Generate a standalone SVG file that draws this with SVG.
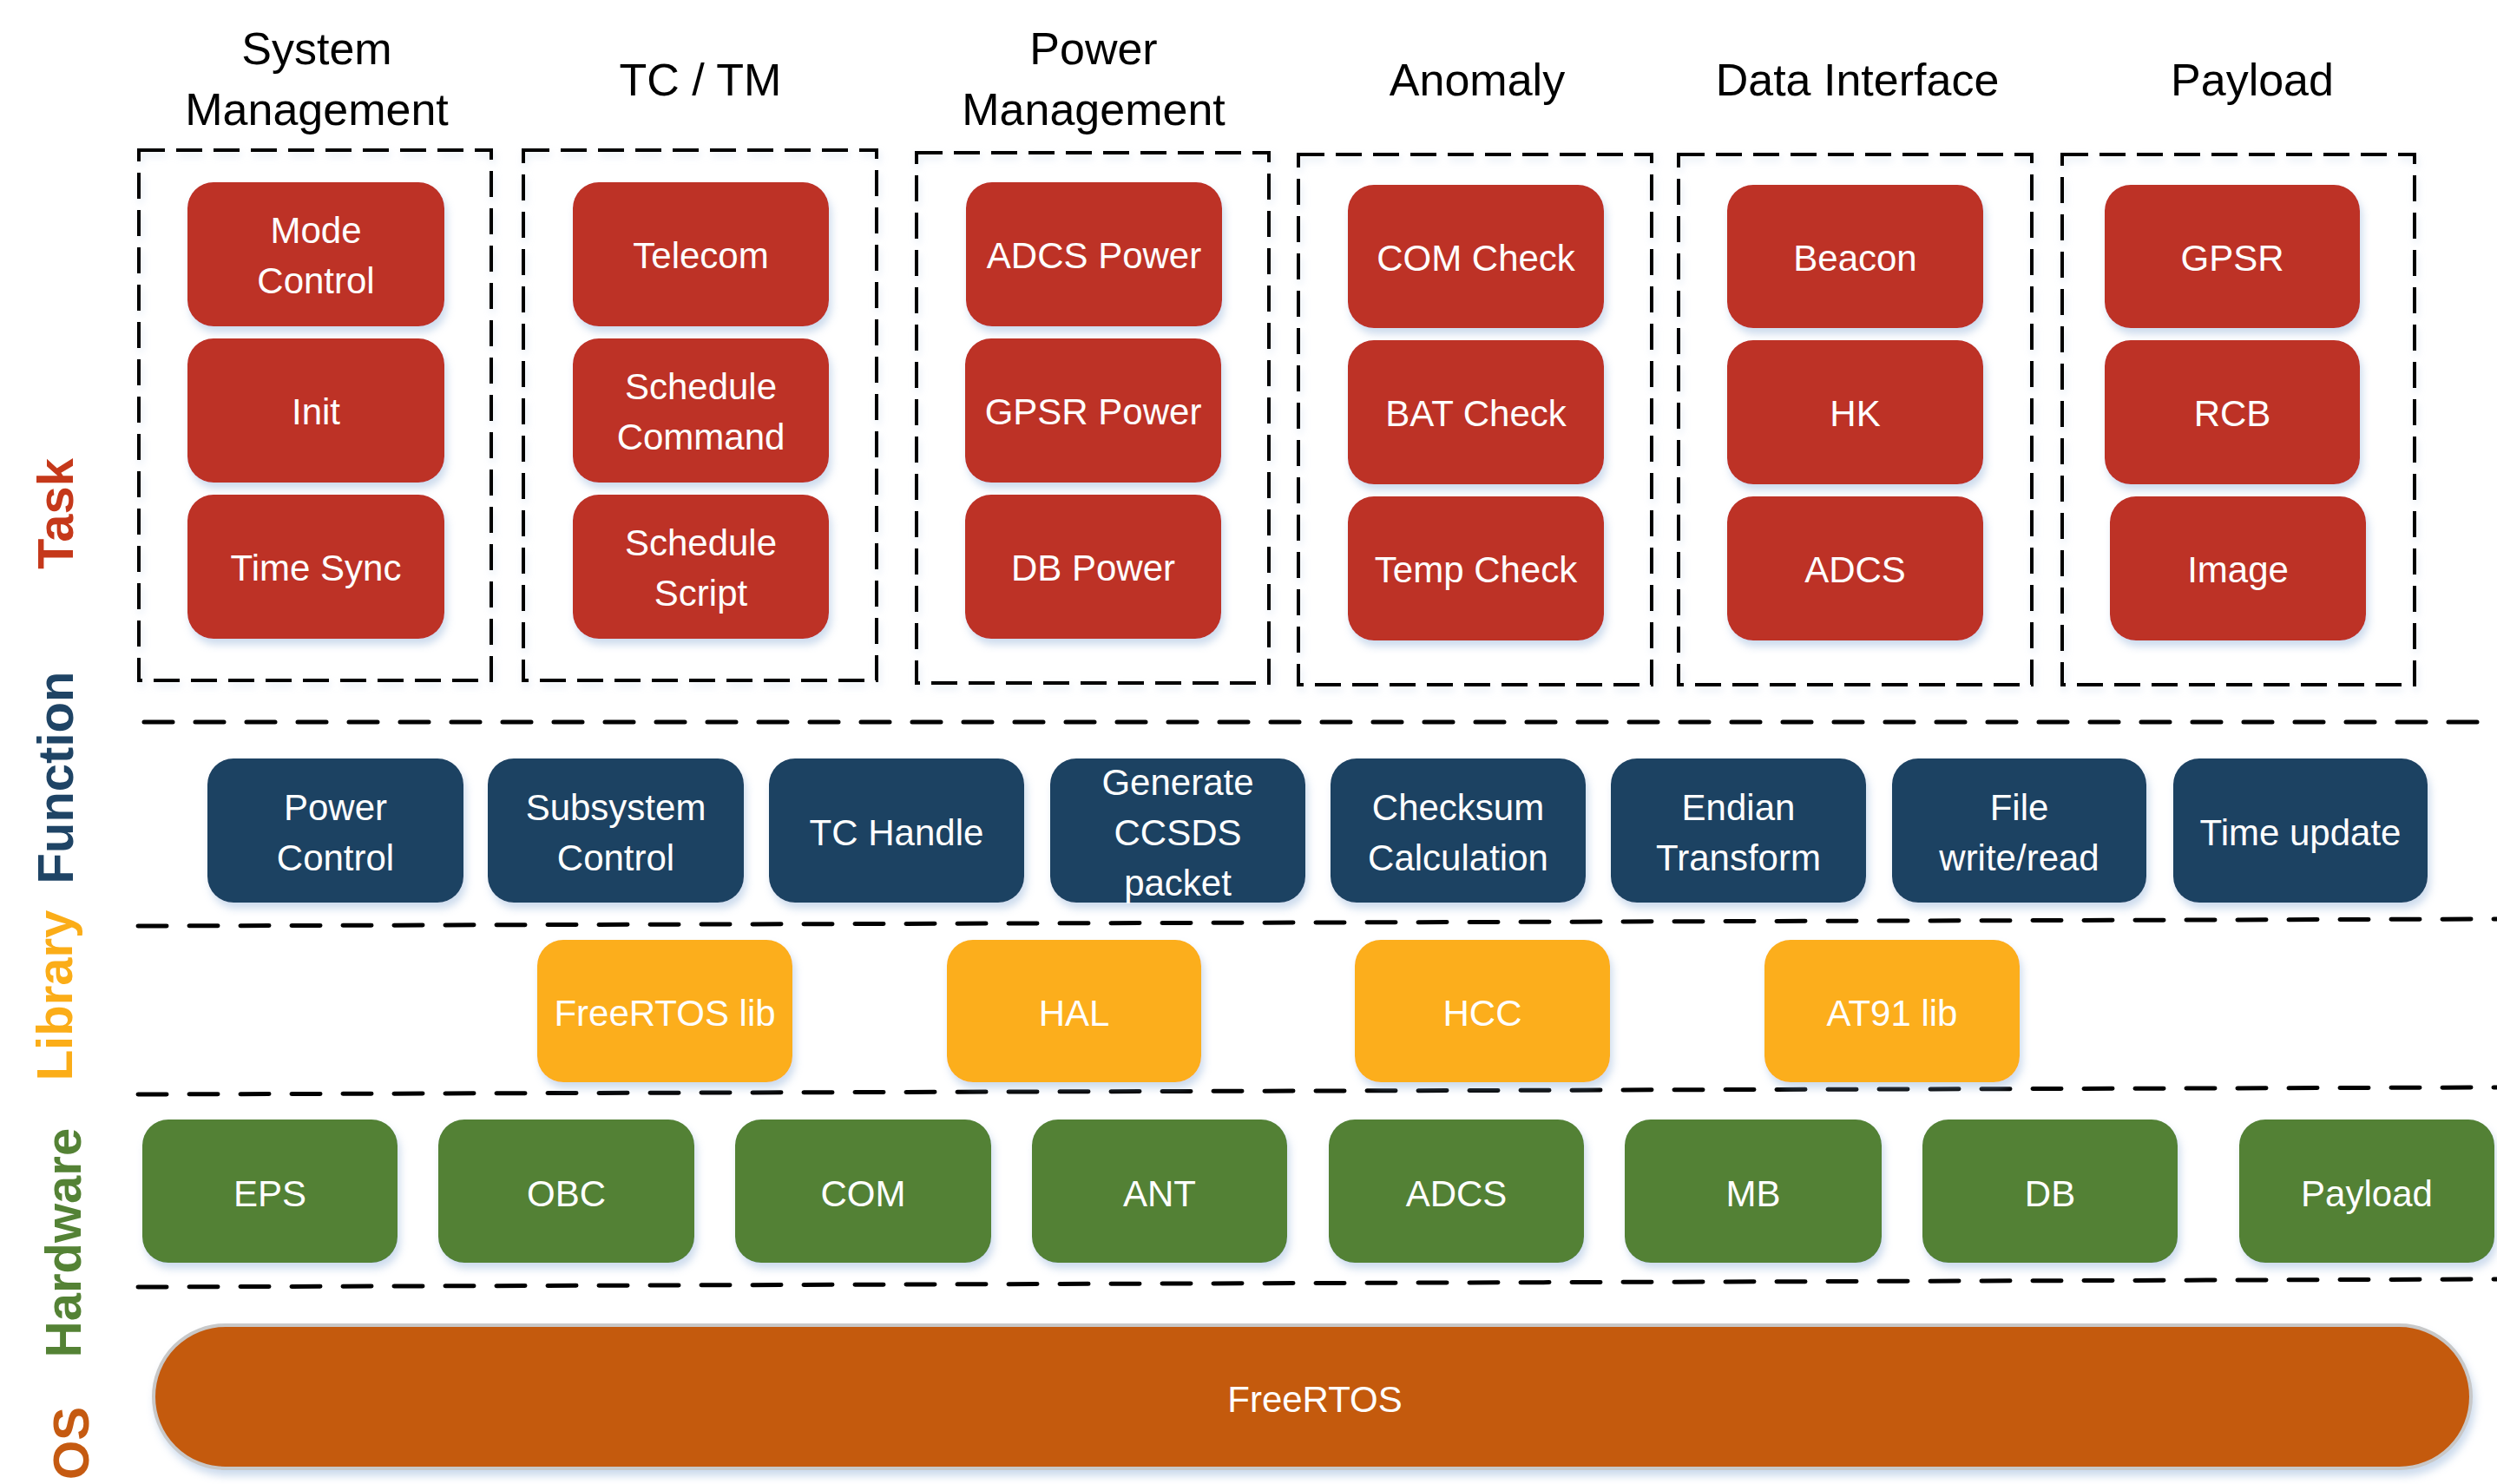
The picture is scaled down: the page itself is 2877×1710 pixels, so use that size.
<svg xmlns="http://www.w3.org/2000/svg" width="2877" height="1710" viewBox="0 0 2877 1710">
<defs>
<filter id="sh" x="-10%" y="-10%" width="125%" height="135%">
<feDropShadow dx="3" dy="7" stdDeviation="5" flood-color="#8fb0d8" flood-opacity="0.45"/>
</filter>
<filter id="shl" x="-5%" y="-5%" width="110%" height="110%">
<feDropShadow dx="2" dy="5" stdDeviation="4" flood-color="#a9c2e0" flood-opacity="0.35"/>
</filter>
<style>
text{font-family:"Liberation Sans",Arial,sans-serif;}
.hdr{font-size:52px;fill:#000;text-anchor:middle;}
.nt{font-size:42px;fill:#fff;text-anchor:middle;}
.lbl{font-size:58px;font-weight:bold;text-anchor:middle;}
.grp{fill:none;stroke:#000;stroke-width:4;stroke-dasharray:30 13;filter:url(#shl);}
.sep{fill:none;stroke:#000;stroke-width:5;stroke-dasharray:33 26;stroke-linecap:round;}
.task{fill:#BD3027;filter:url(#sh);}
.func{fill:#1F4262;filter:url(#sh);}
.lib{fill:#FCAE1A;filter:url(#sh);}
.hw{fill:#538135;filter:url(#sh);}
.os{fill:#C45A11;stroke:#c8c8c8;stroke-width:4;filter:url(#sh);}
</style>
</defs>
<rect width="2877" height="1710" fill="#fff"/>

<g id="side-labels">
<text class="lbl" fill="#C5381A" transform="translate(84,592) rotate(-90)">Task</text>
<text class="lbl" fill="#1F4465" transform="translate(84,896) rotate(-90)">Function</text>
<text class="lbl" fill="#FBAD18" transform="translate(83,1147) rotate(-90)">Library</text>
<text class="lbl" fill="#548235" transform="translate(93,1432) rotate(-90)">Hardware</text>
<text class="lbl" fill="#C55A11" transform="translate(102,1663) rotate(-90)">OS</text>
</g>

<g id="connectors">
<line class="sep" x1="166" y1="832" x2="2877" y2="832"/>
<line class="sep" x1="159" y1="1067" x2="2877" y2="1059"/>
<line class="sep" x1="159" y1="1261" x2="2877" y2="1253"/>
<line class="sep" x1="159" y1="1483" x2="2877" y2="1474"/>
</g>

<g id="grp-system-management">
<text class="hdr" x="365" y="74">System</text>
<text class="hdr" x="365" y="144">Management</text>
<rect class="grp" x="160" y="173" width="406" height="611"/>
</g>
<g id="grp-tc-tm">
<text class="hdr" x="807" y="110">TC / TM</text>
<rect class="grp" x="603" y="173" width="407" height="611"/>
</g>
<g id="grp-power-management">
<text class="hdr" x="1260" y="74">Power</text>
<text class="hdr" x="1260" y="144">Management</text>
<rect class="grp" x="1056" y="176" width="406" height="611"/>
</g>
<g id="grp-anomaly">
<text class="hdr" x="1702" y="110">Anomaly</text>
<rect class="grp" x="1496" y="178" width="407" height="611"/>
</g>
<g id="grp-data-interface">
<text class="hdr" x="2140" y="110">Data Interface</text>
<rect class="grp" x="1934" y="178" width="407" height="611"/>
</g>
<g id="grp-payload">
<text class="hdr" x="2595" y="110">Payload</text>
<rect class="grp" x="2376" y="178" width="406" height="611"/>
</g>

<g id="task-mode-control"><rect class="task" x="216" y="210" width="296" height="166" rx="30"/><text class="nt" x="364" y="280">Mode</text><text class="nt" x="364" y="338">Control</text></g>
<g id="task-init"><rect class="task" x="216" y="390" width="296" height="166" rx="30"/><text class="nt" x="364" y="489">Init</text></g>
<g id="task-time-sync"><rect class="task" x="216" y="570" width="296" height="166" rx="30"/><text class="nt" x="364" y="669">Time Sync</text></g>

<g id="task-telecom"><rect class="task" x="660" y="210" width="295" height="166" rx="30"/><text class="nt" x="807.5" y="309">Telecom</text></g>
<g id="task-schedule-command"><rect class="task" x="660" y="390" width="295" height="166" rx="30"/><text class="nt" x="807.5" y="460">Schedule</text><text class="nt" x="807.5" y="518">Command</text></g>
<g id="task-schedule-script"><rect class="task" x="660" y="570" width="295" height="166" rx="30"/><text class="nt" x="807.5" y="640">Schedule</text><text class="nt" x="807.5" y="698">Script</text></g>

<g id="task-adcs-power"><rect class="task" x="1113" y="210" width="295" height="166" rx="30"/><text class="nt" x="1260.5" y="309">ADCS Power</text></g>
<g id="task-gpsr-power"><rect class="task" x="1112" y="390" width="295" height="166" rx="30"/><text class="nt" x="1259.5" y="489">GPSR Power</text></g>
<g id="task-db-power"><rect class="task" x="1112" y="570" width="295" height="166" rx="30"/><text class="nt" x="1259.5" y="669">DB Power</text></g>

<g id="task-com-check"><rect class="task" x="1553" y="213" width="295" height="165" rx="30"/><text class="nt" x="1700.5" y="312">COM Check</text></g>
<g id="task-bat-check"><rect class="task" x="1553" y="392" width="295" height="166" rx="30"/><text class="nt" x="1700.5" y="491">BAT Check</text></g>
<g id="task-temp-check"><rect class="task" x="1553" y="572" width="295" height="166" rx="30"/><text class="nt" x="1700.5" y="671">Temp Check</text></g>

<g id="task-beacon"><rect class="task" x="1990" y="213" width="295" height="165" rx="30"/><text class="nt" x="2137.5" y="312">Beacon</text></g>
<g id="task-hk"><rect class="task" x="1990" y="392" width="295" height="166" rx="30"/><text class="nt" x="2137.5" y="491">HK</text></g>
<g id="task-adcs"><rect class="task" x="1990" y="572" width="295" height="166" rx="30"/><text class="nt" x="2137.5" y="671">ADCS</text></g>

<g id="task-gpsr"><rect class="task" x="2425" y="213" width="294" height="165" rx="30"/><text class="nt" x="2572" y="312">GPSR</text></g>
<g id="task-rcb"><rect class="task" x="2425" y="392" width="294" height="166" rx="30"/><text class="nt" x="2572" y="491">RCB</text></g>
<g id="task-image"><rect class="task" x="2431" y="572" width="295" height="166" rx="30"/><text class="nt" x="2578.5" y="671">Image</text></g>

<g id="fn-power-control"><rect class="func" x="239" y="874" width="295" height="166" rx="30"/><text class="nt" x="386.5" y="945">Power</text><text class="nt" x="386.5" y="1003">Control</text></g>
<g id="fn-subsystem-control"><rect class="func" x="562" y="874" width="295" height="166" rx="30"/><text class="nt" x="709.5" y="945">Subsystem</text><text class="nt" x="709.5" y="1003">Control</text></g>
<g id="fn-tc-handle"><rect class="func" x="886" y="874" width="294" height="166" rx="30"/><text class="nt" x="1033" y="974">TC Handle</text></g>
<g id="fn-generate-ccsds"><rect class="func" x="1210" y="874" width="294" height="166" rx="30"/><text class="nt" x="1357" y="916">Generate</text><text class="nt" x="1357" y="974">CCSDS</text><text class="nt" x="1357" y="1032">packet</text></g>
<g id="fn-checksum"><rect class="func" x="1533" y="874" width="294" height="166" rx="30"/><text class="nt" x="1680" y="945">Checksum</text><text class="nt" x="1680" y="1003">Calculation</text></g>
<g id="fn-endian"><rect class="func" x="1856" y="874" width="294" height="166" rx="30"/><text class="nt" x="2003" y="945">Endian</text><text class="nt" x="2003" y="1003">Transform</text></g>
<g id="fn-file"><rect class="func" x="2180" y="874" width="293" height="166" rx="30"/><text class="nt" x="2326.5" y="945">File</text><text class="nt" x="2326.5" y="1003">write/read</text></g>
<g id="fn-time-update"><rect class="func" x="2504" y="874" width="293" height="166" rx="30"/><text class="nt" x="2650.5" y="974">Time update</text></g>

<g id="lib-freertos"><rect class="lib" x="619" y="1083" width="294" height="164" rx="30"/><text class="nt" x="766" y="1182">FreeRTOS lib</text></g>
<g id="lib-hal"><rect class="lib" x="1091" y="1083" width="293" height="164" rx="30"/><text class="nt" x="1237.5" y="1182">HAL</text></g>
<g id="lib-hcc"><rect class="lib" x="1561" y="1083" width="294" height="164" rx="30"/><text class="nt" x="1708" y="1182">HCC</text></g>
<g id="lib-at91"><rect class="lib" x="2033" y="1083" width="294" height="164" rx="30"/><text class="nt" x="2180" y="1182">AT91 lib</text></g>

<g id="hw-eps"><rect class="hw" x="164" y="1290" width="294" height="165" rx="30"/><text class="nt" x="311" y="1390">EPS</text></g>
<g id="hw-obc"><rect class="hw" x="505" y="1290" width="295" height="165" rx="30"/><text class="nt" x="652.5" y="1390">OBC</text></g>
<g id="hw-com"><rect class="hw" x="847" y="1290" width="295" height="165" rx="30"/><text class="nt" x="994.5" y="1390">COM</text></g>
<g id="hw-ant"><rect class="hw" x="1189" y="1290" width="294" height="165" rx="30"/><text class="nt" x="1336" y="1390">ANT</text></g>
<g id="hw-adcs"><rect class="hw" x="1531" y="1290" width="294" height="165" rx="30"/><text class="nt" x="1678" y="1390">ADCS</text></g>
<g id="hw-mb"><rect class="hw" x="1872" y="1290" width="296" height="165" rx="30"/><text class="nt" x="2020" y="1390">MB</text></g>
<g id="hw-db"><rect class="hw" x="2215" y="1290" width="294" height="165" rx="30"/><text class="nt" x="2362" y="1390">DB</text></g>
<g id="hw-payload"><rect class="hw" x="2580" y="1290" width="294" height="165" rx="30"/><text class="nt" x="2727" y="1390">Payload</text></g>

<g id="os-freertos"><rect class="os" x="177" y="1527" width="2670" height="165" rx="82.5"/><text class="nt" x="1515" y="1627">FreeRTOS</text></g>
</svg>
